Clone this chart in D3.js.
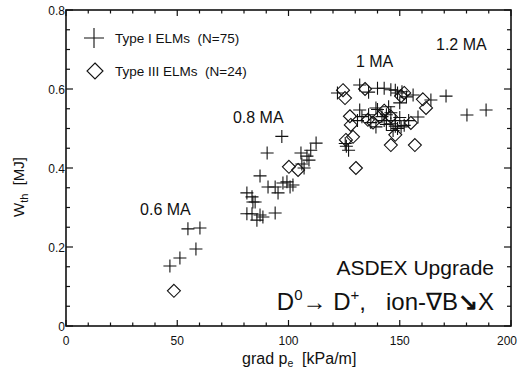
<!DOCTYPE html>
<html>
<head>
<meta charset="utf-8">
<script src="https://cdn.jsdelivr.net/npm/d3@7"></script>
<style>
  body { margin: 0; background: #fff; }
  text { font-family: "Liberation Sans", Arial, sans-serif; fill: #111; white-space: pre; }
</style>
</head>
<body>
<div id="chart"></div>
<script>
// Type I ELMs (crosses): [grad pe, Wth]
var typeI = [
  [46.7, 0.152], [51.2, 0.172], [54.8, 0.246], [60.2, 0.248], [58.4, 0.195],
  [97, 0.48], [90.4, 0.438], [87.2, 0.38], [112.4, 0.463], [108.3, 0.43],
  [109.2, 0.42], [107, 0.40], [105.6, 0.438], [102, 0.357], [99.3, 0.365],
  [90.8, 0.352], [94, 0.352], [95.3, 0.337], [81.3, 0.337], [83.6, 0.327],
  [85, 0.314], [81.3, 0.284], [83.6, 0.284], [87.2, 0.281], [94, 0.286],
  [85.8, 0.268], [97.5, 0.362], [100.7, 0.352], [84, 0.314], [110, 0.445],
  [88.5, 0.276], [106, 0.41],
  [122, 0.590], [132, 0.610], [136, 0.592], [140, 0.602], [143, 0.602],
  [146, 0.598], [148, 0.597], [149, 0.590], [151, 0.593], [153, 0.580],
  [156, 0.585], [164, 0.572], [170.8, 0.582], [180.2, 0.534], [188.8, 0.547],
  [132, 0.547], [136, 0.535], [139.3, 0.552], [140, 0.548], [142, 0.530],
  [144, 0.535], [146, 0.540], [148, 0.52], [150, 0.528], [158.2, 0.529],
  [139.3, 0.504], [137, 0.515], [148, 0.506], [150.6, 0.504], [152, 0.508],
  [146, 0.512], [144, 0.51], [126, 0.455], [127, 0.445], [125.5, 0.462],
  [131, 0.52], [133, 0.530], [147, 0.495], [149, 0.500], [154, 0.52],
  [143, 0.520], [145, 0.555], [150, 0.565]
];

// Type III ELMs (diamonds)
var typeIII = [
  [48.5, 0.089],
  [100.2, 0.403], [104.3, 0.395],
  [124.5, 0.597], [125.4, 0.577], [134.4, 0.600], [150.6, 0.582], [152, 0.590],
  [160.4, 0.574], [161.8, 0.552], [127.6, 0.531], [135.7, 0.522], [128, 0.509],
  [129, 0.479], [125.8, 0.471], [130.3, 0.400], [146, 0.458], [156.8, 0.458],
  [155, 0.514], [148, 0.484], [146, 0.530], [141, 0.530], [143, 0.545], [138, 0.515]
];

var xTicks = [0, 50, 100, 150, 200];
var yTicks = [0, 0.2, 0.4, 0.6, 0.8];
var xMinor = d3.range(0, 201, 10);
var yMinor = d3.range(0, 0.801, 0.05);

var currentLabels = [
  {text: "0.6 MA", x: 33.3, y: 0.281},
  {text: "0.8 MA", x: 75, y: 0.514},
  {text: "1 MA", x: 130.3, y: 0.656},
  {text: "1.2 MA", x: 166.3, y: 0.699}
];

var W = 518, H = 370;
var margin = {top: 10, right: 7, bottom: 44, left: 66};

var svg = d3.select("#chart").append("svg")
  .attr("width", W).attr("height", H);

var x = d3.scaleLinear().domain([0, 200]).range([margin.left, W - margin.right]);
var y = d3.scaleLinear().domain([0, 0.8]).range([H - margin.bottom, margin.top]);

// frame
svg.append("rect")
  .attr("x", x(0)).attr("y", y(0.8))
  .attr("width", x(200) - x(0)).attr("height", y(0) - y(0.8))
  .attr("fill", "none").attr("stroke", "#111").attr("stroke-width", 1.6);

// inward ticks
var ticks = svg.append("g").attr("stroke", "#111").attr("stroke-width", 1.2);
xMinor.forEach(function (v) {
  var len = xTicks.indexOf(v) >= 0 ? 6 : 3.5;
  ticks.append("line").attr("x1", x(v)).attr("x2", x(v)).attr("y1", y(0)).attr("y2", y(0) - len);
  ticks.append("line").attr("x1", x(v)).attr("x2", x(v)).attr("y1", y(0.8)).attr("y2", y(0.8) + len);
});
yMinor.forEach(function (v) {
  var major = yTicks.some(function (t) { return Math.abs(t - v) < 1e-6; });
  var len = major ? 7 : 4;
  ticks.append("line").attr("x1", x(0)).attr("x2", x(0) + len).attr("y1", y(v)).attr("y2", y(v));
  ticks.append("line").attr("x1", x(200)).attr("x2", x(200) - len).attr("y1", y(v)).attr("y2", y(v));
});

// tick labels
svg.selectAll(".xl").data(xTicks).enter().append("text")
  .attr("x", function (d) { return Math.min(x(d), W - 11); })
  .attr("y", y(0) + 19)
  .attr("text-anchor", "middle")
  .style("font-size", "12px")
  .text(function (d) { return d; });

svg.selectAll(".yl").data(yTicks).enter().append("text")
  .attr("x", x(0) - 1)
  .attr("y", function (d) { return y(d) + 5; })
  .attr("text-anchor", "end")
  .style("font-size", "12px")
  .text(function (d) { return d === 0 ? "0" : d3.format(".1f")(d); });

// axis titles
var xt = svg.append("text")
  .attr("x", 242).attr("y", 364)
  .style("font-size", "16px");
xt.append("tspan").text("grad p");
xt.append("tspan").attr("dy", 2.5).style("font-size", "10.5px").text("e");
xt.append("tspan").attr("dy", -2.5).text("  [kPa/m]");

var yt = svg.append("text")
  .attr("transform", "translate(24," + 187 + ") rotate(-90)")
  .attr("text-anchor", "middle")
  .style("font-size", "15px");
yt.append("tspan").text("W");
yt.append("tspan").attr("dy", 4).style("font-size", "11px").text("th");
yt.append("tspan").attr("dy", -4).text("  [MJ]");

// markers
function plus(g, cx, cy, s) {
  g.append("path")
    .attr("d", "M" + (cx - s) + "," + cy + "H" + (cx + s) + "M" + cx + "," + (cy - s) + "V" + (cy + s))
    .attr("stroke", "#111").attr("stroke-width", 1.1).attr("fill", "none");
}
function diamond(g, cx, cy, s) {
  g.append("path")
    .attr("d", "M" + cx + "," + (cy - s) + "L" + (cx + s) + "," + cy + "L" + cx + "," + (cy + s) + "L" + (cx - s) + "," + cy + "Z")
    .attr("stroke", "#111").attr("stroke-width", 1.1).attr("fill", "none");
}

var pts = svg.append("g");
typeIII.forEach(function (d) { diamond(pts, x(d[0]), y(d[1]), 6.5); });
typeI.forEach(function (d) { plus(pts, x(d[0]), y(d[1]), 6.5); });

// legend
var leg = svg.append("g");
plus(leg, 94, 38, 10);
diamond(leg, 95, 71, 8);
leg.append("text").attr("x", 115).attr("y", 43).style("font-size", "13.5px").text("Type I ELMs  (N=75)");
leg.append("text").attr("x", 115).attr("y", 76).style("font-size", "13.5px").text("Type III ELMs  (N=24)");

// current annotations
svg.selectAll(".ma").data(currentLabels).enter().append("text")
  .attr("x", function (d) { return x(d.x); })
  .attr("y", function (d) { return y(d.y); })
  .style("font-size", "16px")
  .text(function (d) { return d.text; });

// machine label
svg.append("text")
  .attr("x", 494).attr("y", 275)
  .attr("text-anchor", "end")
  .style("font-size", "21px")
  .text("ASDEX Upgrade");

var dl = svg.append("text")
  .attr("x", 494).attr("y", 310)
  .attr("text-anchor", "end")
  .style("font-size", "24px");
dl.append("tspan").text("D");
dl.append("tspan").attr("dy", -10).style("font-size", "15px").text("0");
dl.append("tspan").attr("dy", 10).style("font-weight", "bold").text("\u2192 ");
dl.append("tspan").text("D");
dl.append("tspan").attr("dy", -10).style("font-size", "15px").text("+");
dl.append("tspan").attr("dy", 10).text(",   ion-\u2207B");
dl.append("tspan").style("font-weight", "bold").text("\u2198");
dl.append("tspan").text("X");
</script>
</body>
</html>
